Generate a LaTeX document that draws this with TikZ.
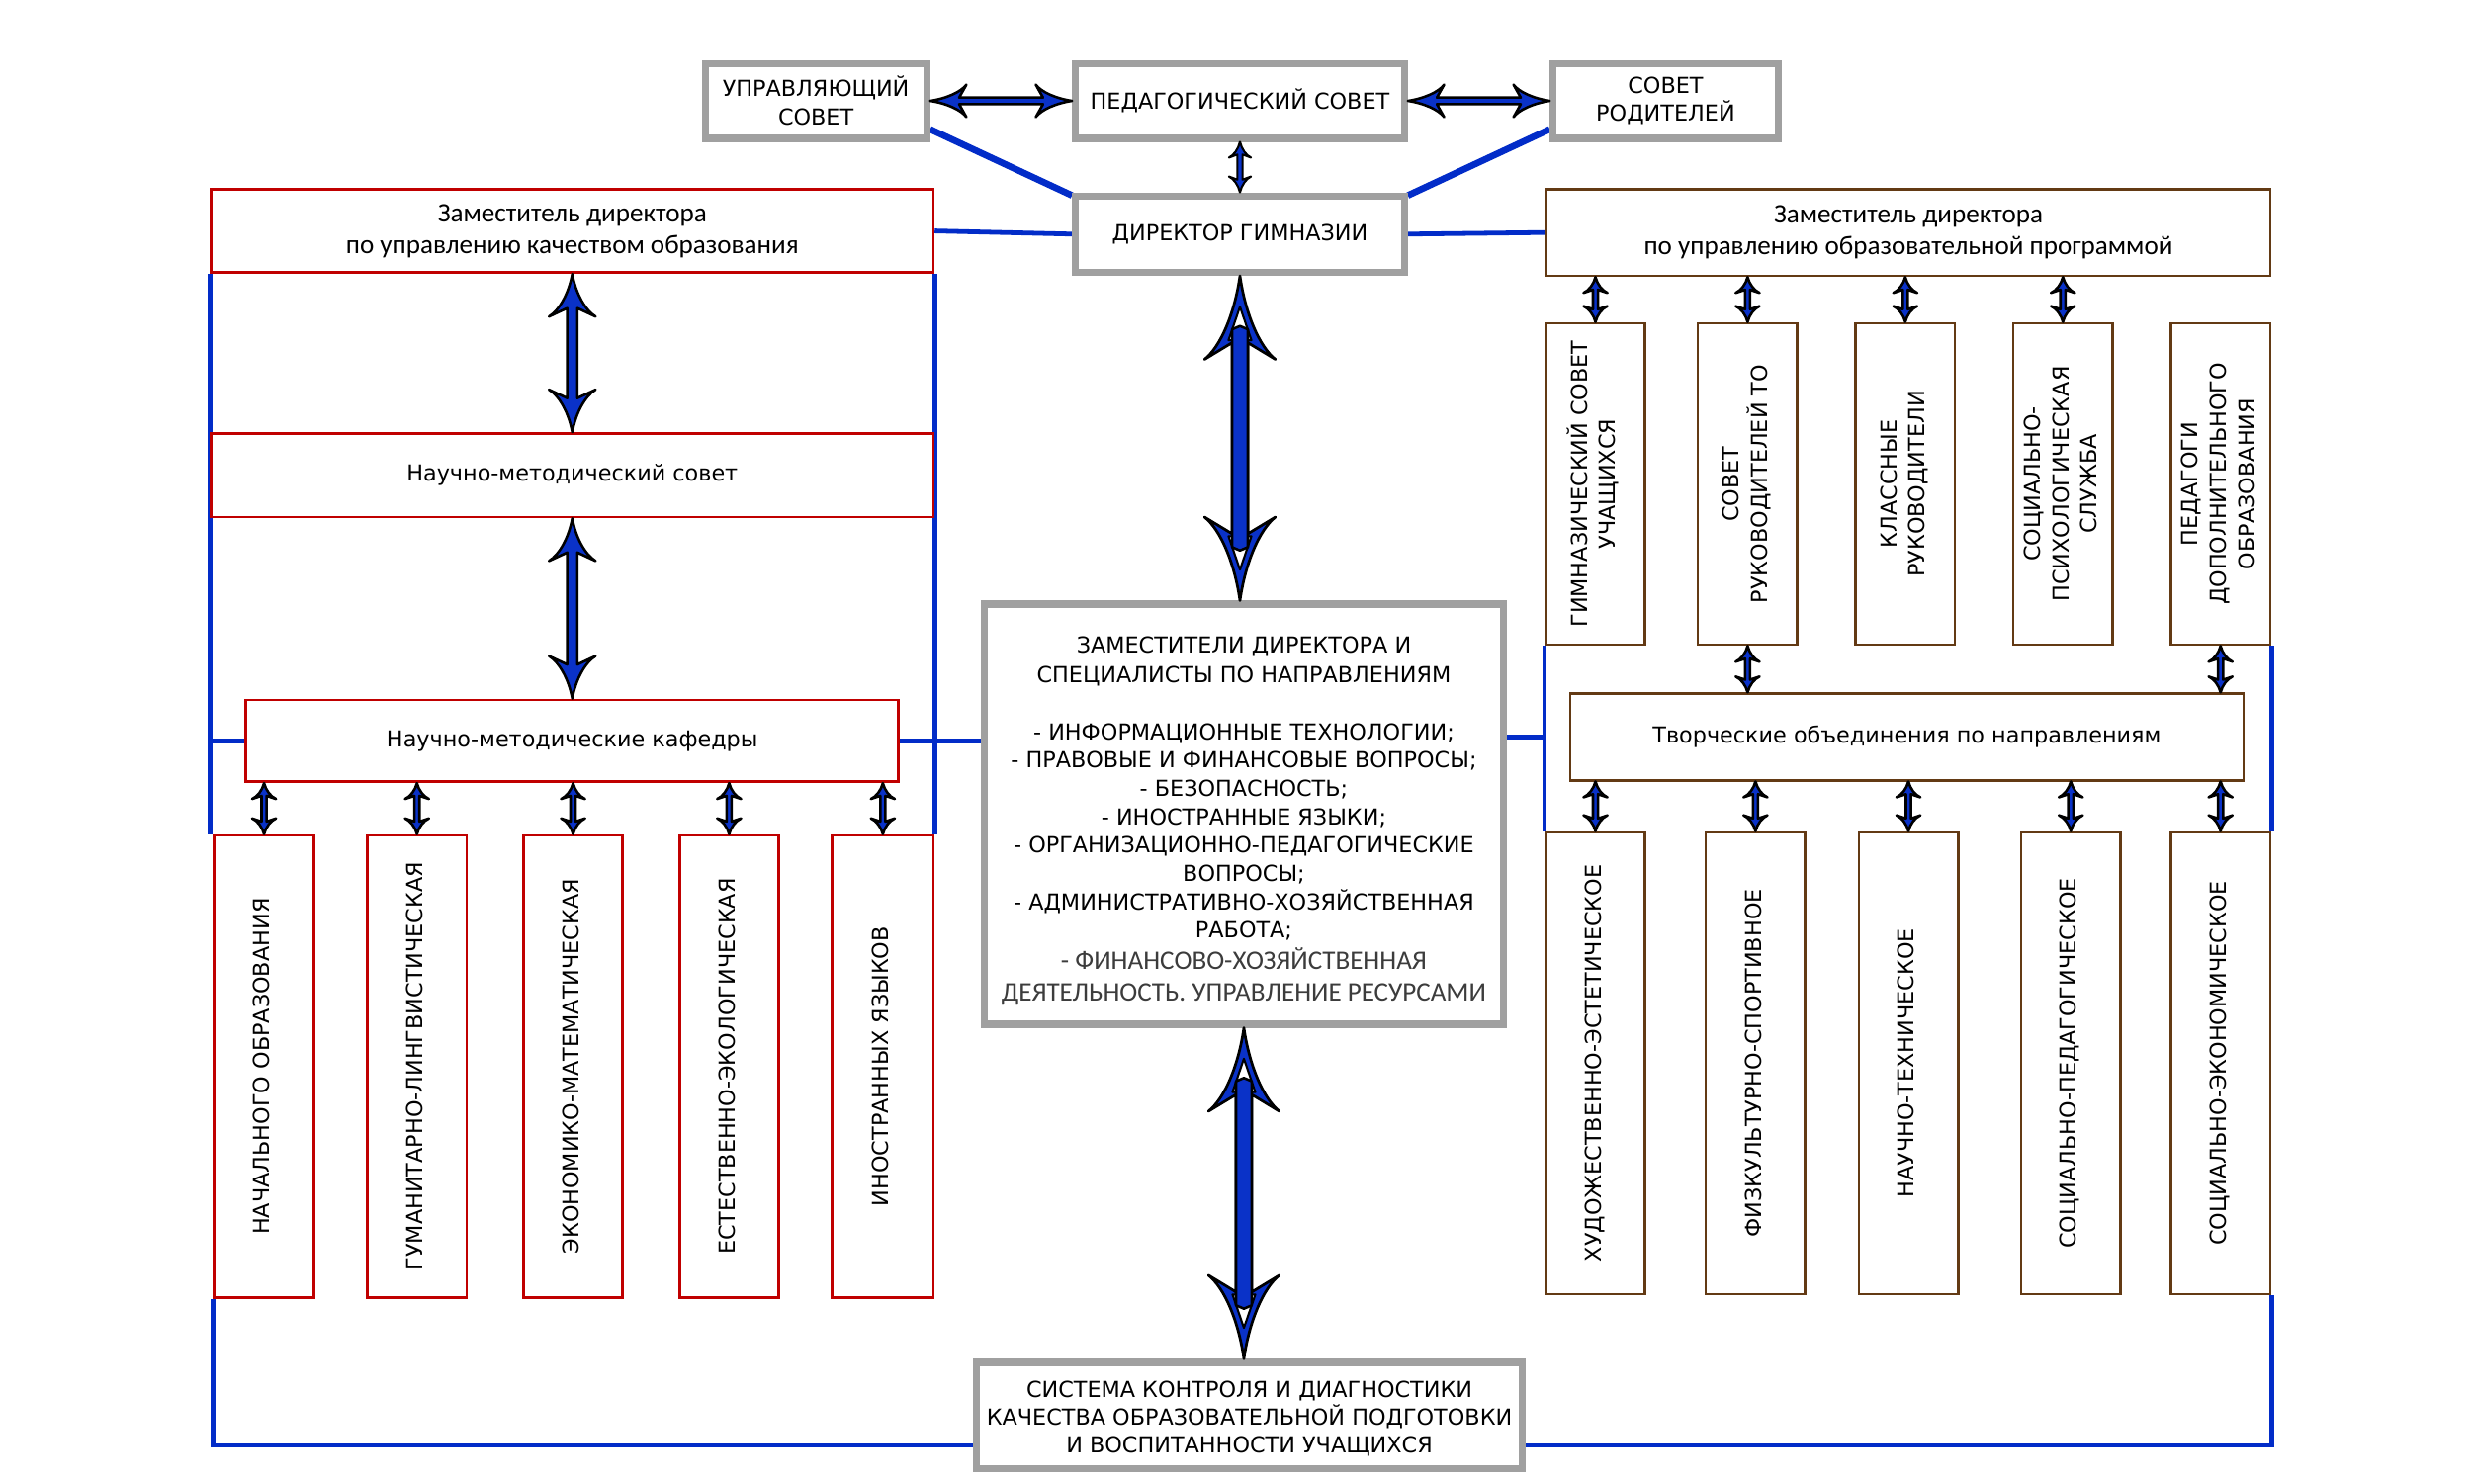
\documentclass[tikz,border=0pt]{standalone}
\usepackage{fontspec}
\usepackage{graphicx}
\setmainfont{DejaVu Sans}
\newfontfamily\calfont{Carlito}
\usetikzlibrary{calc}
\pgfdeclarelayer{bg}
\pgfsetlayers{bg,main}
\definecolor{abl}{RGB}{10,50,200}
\definecolor{lbl}{RGB}{2,44,200}
\definecolor{gbd}{RGB}{160,160,160}
\definecolor{rbd}{RGB}{192,0,0}
\definecolor{bbd}{RGB}{99,58,20}
\definecolor{dgr}{RGB}{60,60,60}
\tikzset{
  gbox/.style={draw=gbd, line width=4.5pt, fill=white, align=center, inner sep=2pt, font=\fontsize{14}{18}\selectfont},
  rbox/.style={draw=rbd, line width=1.7pt, fill=white, align=center, inner sep=2pt, font=\fontsize{14}{18}\selectfont},
  brbox/.style={draw=bbd, line width=1.6pt, fill=white, align=center, inner sep=2pt, font=\fontsize{14}{18}\selectfont},
  calt/.style={font=\calfont\fontsize{17}{20}\selectfont},
  bl/.style={draw=lbl, line width=3pt},
  bld/.style={draw=lbl, line width=4.2pt},
  arr/.style={fill=abl, draw=black, line width=1.6pt, line join=round},
}
\newcommand\vt[1]{\rotatebox{90}{\begin{tabular}{@{}c@{}}#1\end{tabular}}}
% vertical double arrow: #2 top point, #3 bottom point, #4 shaft half width, #5 head half width, #6 head length
\newcommand\vdarrow[6][]{%
\path[arr,#1] let \p1=(#2), \p2=(#3) in
 (\x1,\y1)
 .. controls (\x1+0.15*#5,\y1-0.45*#6) and (\x1+0.55*#5,\y1-0.85*#6) .. (\x1+#5,\y1-#6)
 -- (\x1+#4,\y1-0.8*#6) -- (\x1+#4,\y2+0.8*#6) -- (\x1+#5,\y2+#6)
 .. controls (\x1+0.55*#5,\y2+0.85*#6) and (\x1+0.15*#5,\y2+0.45*#6) .. (\x1,\y2)
 .. controls (\x1-0.15*#5,\y2+0.45*#6) and (\x1-0.55*#5,\y2+0.85*#6) .. (\x1-#5,\y2+#6)
 -- (\x1-#4,\y2+0.8*#6) -- (\x1-#4,\y1-0.8*#6) -- (\x1-#5,\y1-#6)
 .. controls (\x1-0.55*#5,\y1-0.85*#6) and (\x1-0.15*#5,\y1-0.45*#6) .. (\x1,\y1) -- cycle;}
% horizontal double arrow: #2 left point, #3 right point
\newcommand\hdarrow[6][]{%
\path[arr,#1] let \p1=(#2), \p2=(#3) in
 (\x1,\y1)
 .. controls (\x1+0.45*#6,\y1+0.15*#5) and (\x1+0.85*#6,\y1+0.55*#5) .. (\x1+#6,\y1+#5)
 -- (\x1+0.8*#6,\y1+#4) -- (\x2-0.8*#6,\y1+#4) -- (\x2-#6,\y1+#5)
 .. controls (\x2-0.85*#6,\y1+0.55*#5) and (\x2-0.45*#6,\y1+0.15*#5) .. (\x2,\y1)
 .. controls (\x2-0.45*#6,\y1-0.15*#5) and (\x2-0.85*#6,\y1-0.55*#5) .. (\x2-#6,\y1-#5)
 -- (\x2-0.8*#6,\y1-#4) -- (\x1+0.8*#6,\y1-#4) -- (\x1+#6,\y1-#5)
 .. controls (\x1+0.85*#6,\y1-0.55*#5) and (\x1+0.45*#6,\y1-0.15*#5) .. (\x1,\y1) -- cycle;}
% hollow inner triangles of the big arrows, with the shaft running into them
\newcommand\vhollow[4]{%
\path[draw=black, fill=white, line width=1.3pt, line join=round] let \p1=(#1), \p2=(#2) in
 (\x1,\y1-0.37*#4) -- (\x1+1.45*#3,\y1-0.77*#4) -- (\x1-1.45*#3,\y1-0.77*#4) -- cycle
 (\x1,\y2+0.37*#4) -- (\x1+1.45*#3,\y2+0.77*#4) -- (\x1-1.45*#3,\y2+0.77*#4) -- cycle;
\path[arr] let \p1=(#1), \p2=(#2) in
 (\x1-#3,\y1-0.64*#4) -- (\x1,\y1-0.6*#4) -- (\x1+#3,\y1-0.64*#4) -- (\x1+#3,\y2+0.64*#4)
 -- (\x1,\y2+0.6*#4) -- (\x1-#3,\y2+0.64*#4) -- cycle;}
\begin{document}
\begin{tikzpicture}[x=1pt,y=-1pt]
\useasboundingbox (0,0) rectangle (1568,940.8);
\begin{pgfonlayer}{bg}
\fill[white] (0,0) rectangle (1568,940.8);
\end{pgfonlayer}

% top row
\node[gbox, minimum width=140.5pt, minimum height=47.5pt] (upr) at (517.5,64) {УПРАВЛЯЮЩИЙ\\СОВЕТ};
\node[gbox, minimum width=208.5pt, minimum height=47.5pt] (ped) at (786.5,64) {ПЕДАГОГИЧЕСКИЙ СОВЕТ};
\node[gbox, minimum width=142.5pt, minimum height=47.5pt] (sr) at (1056.5,64) {СОВЕТ\\РОДИТЕЛЕЙ};
\node[gbox, minimum width=208.5pt, minimum height=48.5pt] (dir) at (786.5,148.5) {ДИРЕКТОР ГИМНАЗИИ};

% centre
\node[gbox, minimum width=329.5pt, minimum height=266.5pt] (cz) at (789,516.5) {\rule{0pt}{19pt}ЗАМЕСТИТЕЛИ ДИРЕКТОРА И\\[1pt]СПЕЦИАЛИСТЫ ПО НАПРАВЛЕНИЯМ\\[18pt]- ИНФОРМАЦИОННЫЕ ТЕХНОЛОГИИ;\\- ПРАВОВЫЕ И ФИНАНСОВЫЕ ВОПРОСЫ;\\- БЕЗОПАСНОСТЬ;\\- ИНОСТРАННЫЕ ЯЗЫКИ;\\- ОРГАНИЗАЦИОННО-ПЕДАГОГИЧЕСКИЕ\\ВОПРОСЫ;\\- АДМИНИСТРАТИВНО-ХОЗЯЙСТВЕННАЯ\\РАБОТА;\\[2pt]{\calfont\fontsize{17}{20}\selectfont\color{dgr}- ФИНАНСОВО-ХОЗЯЙСТВЕННАЯ}\\[2pt]{\calfont\fontsize{17}{20}\selectfont\color{dgr}ДЕЯТЕЛЬНОСТЬ. УПРАВЛЕНИЕ РЕСУРСАМИ}};
\node[gbox, minimum width=346.5pt, minimum height=67.5pt, font=\fontsize{14}{17.5}\selectfont] (sys) at (792.5,898) {\rule{0pt}{14pt}СИСТЕМА КОНТРОЛЯ И ДИАГНОСТИКИ\\КАЧЕСТВА ОБРАЗОВАТЕЛЬНОЙ ПОДГОТОВКИ\\И ВОСПИТАННОСТИ УЧАЩИХСЯ};

% left column
\node[rbox, calt, minimum width=458pt, minimum height=53pt] (zl) at (363,146.5) {Заместитель директора\\по управлению качеством образования};
\node[rbox, minimum width=458pt, minimum height=53pt] (nms) at (363,301.5) {Научно-методический совет};
\node[rbox, minimum width=414pt, minimum height=52pt] (kaf) at (363,470) {Научно-методические кафедры};
\node[rbox, minimum width=63pt, minimum height=293pt] (d1) at (167.5,676.5) {\vt{НАЧАЛЬНОГО ОБРАЗОВАНИЯ}};
\node[rbox, minimum width=63pt, minimum height=293pt] (d2) at (264.5,676.5) {\vt{ГУМАНИТАРНО-ЛИНГВИСТИЧЕСКАЯ}};
\node[rbox, minimum width=63pt, minimum height=293pt] (d3) at (363.5,676.5) {\vt{ЭКОНОМИКО-МАТЕМАТИЧЕСКАЯ}};
\node[rbox, minimum width=63pt, minimum height=293pt] (d4) at (462.5,676.5) {\vt{ЕСТЕСТВЕННО-ЭКОЛОГИЧЕСКАЯ}};
\node[rbox, minimum width=64pt, minimum height=293pt] (d5) at (560,676.5) {\vt{ИНОСТРАННЫХ ЯЗЫКОВ}};

% right column
\node[brbox, calt, minimum width=459pt, minimum height=55pt] (zr) at (1210.5,147.5) {Заместитель директора\\по управлению образовательной программой};
\node[brbox, minimum width=63pt, minimum height=204pt] (b1) at (1012,307) {\vt{ГИМНАЗИЧЕСКИЙ СОВЕТ\\УЧАЩИХСЯ}};
\node[brbox, minimum width=63pt, minimum height=204pt] (b2) at (1108.5,307) {\vt{СОВЕТ\\РУКОВОДИТЕЛЕЙ ТО}};
\node[brbox, minimum width=63pt, minimum height=204pt] (b3) at (1208.5,307) {\vt{КЛАССНЫЕ\\РУКОВОДИТЕЛИ}};
\node[brbox, minimum width=63pt, minimum height=204pt] (b4) at (1308.5,307) {\vt{СОЦИАЛЬНО-\\ПСИХОЛОГИЧЕСКАЯ\\СЛУЖБА}};
\node[brbox, minimum width=63pt, minimum height=204pt] (b5) at (1408.5,307) {\vt{ПЕДАГОГИ\\ДОПОЛНИТЕЛЬНОГО\\ОБРАЗОВАНИЯ}};
\node[brbox, minimum width=427pt, minimum height=55pt] (tvor) at (1209.5,467.5) {Творческие объединения по направлениям};
\node[brbox, minimum width=63pt, minimum height=293pt] (h1) at (1012,674.5) {\vt{ХУДОЖЕСТВЕННО-ЭСТЕТИЧЕСКОЕ}};
\node[brbox, minimum width=63pt, minimum height=293pt] (h2) at (1113.5,674.5) {\vt{ФИЗКУЛЬТУРНО-СПОРТИВНОЕ}};
\node[brbox, minimum width=63pt, minimum height=293pt] (h3) at (1210.5,674.5) {\vt{НАУЧНО-ТЕХНИЧЕСКОЕ}};
\node[brbox, minimum width=63pt, minimum height=293pt] (h4) at (1313.5,674.5) {\vt{СОЦИАЛЬНО-ПЕДАГОГИЧЕСКОЕ}};
\node[brbox, minimum width=63pt, minimum height=293pt] (h5) at (1408.5,674.5) {\vt{СОЦИАЛЬНО-ЭКОНОМИЧЕСКОЕ}};

% blue connecting lines (behind)
\begin{pgfonlayer}{bg}
\draw[bld] ([yshift=8pt]upr.south east) -- ([yshift=-2pt]dir.north west);
\draw[bld] ([yshift=8pt]sr.south west) -- ([yshift=-2pt]dir.north east);
\draw[bl] (zl.east) -- (dir.west);
\draw[bl] (dir.east) -- (zr.west);
\draw[bl] (zl.south west) -- (zl.south west |- d1.north);
\draw[bl] (d1.south west) |- ([yshift=-19pt]sys.west);
\draw[bl] (zl.south east) -- (d5.north east);
\draw[bl] (kaf.west) -- (kaf.west -| zl.west);
\draw[bl] (kaf.east) -- (kaf.east -| cz.west);
\draw[bl] (tvor.west -| cz.east) -- (tvor.west -| b1.west);
\draw[bl] (b1.south west) -- (b1.south west |- h1.north);
\draw[bl] (b5.south east) -- (b5.south east |- h5.north);
\draw[bl] (h5.south east) |- ([yshift=-19pt]sys.east);
\end{pgfonlayer}

% arrows
\hdarrow{upr.east}{ped.west}{2.1pt}{10.3pt}{23pt}
\hdarrow{ped.east}{sr.west}{2.1pt}{10.3pt}{23pt}
\vdarrow[line width=1.3pt]{ped.south}{dir.north}{1.6pt}{7pt}{10pt}
\vdarrow[line width=1.7pt]{dir.south}{cz.north}{5pt}{22.5pt}{53pt}
\vhollow{dir.south}{cz.north}{5pt}{53pt}
\vdarrow[line width=1.7pt]{cz.south}{sys.north}{5pt}{22.5pt}{53pt}
\vhollow{cz.south}{sys.north}{5pt}{53pt}
\vdarrow[line width=1.6pt]{zl.south}{nms.north}{3.2pt}{14.8pt}{27pt}
\vdarrow[line width=1.6pt]{nms.south}{kaf.north}{3.2pt}{14.8pt}{27pt}
\foreach \i in {1,...,5}{\vdarrow{kaf.south -| d\i.north}{d\i.north}{1.6pt}{7.6pt}{10pt}}
\foreach \i in {1,...,4}{\vdarrow{zr.south -| b\i.north}{b\i.north}{1.6pt}{7.6pt}{10pt}}
\vdarrow{b2.south}{tvor.north -| b2.south}{1.6pt}{7.6pt}{10pt}
\vdarrow{b5.south}{tvor.north -| b5.south}{1.6pt}{7.6pt}{10pt}
\foreach \i in {1,...,5}{\vdarrow{tvor.south -| h\i.north}{h\i.north}{1.6pt}{7.6pt}{10pt}}
\end{tikzpicture}
\end{document}
